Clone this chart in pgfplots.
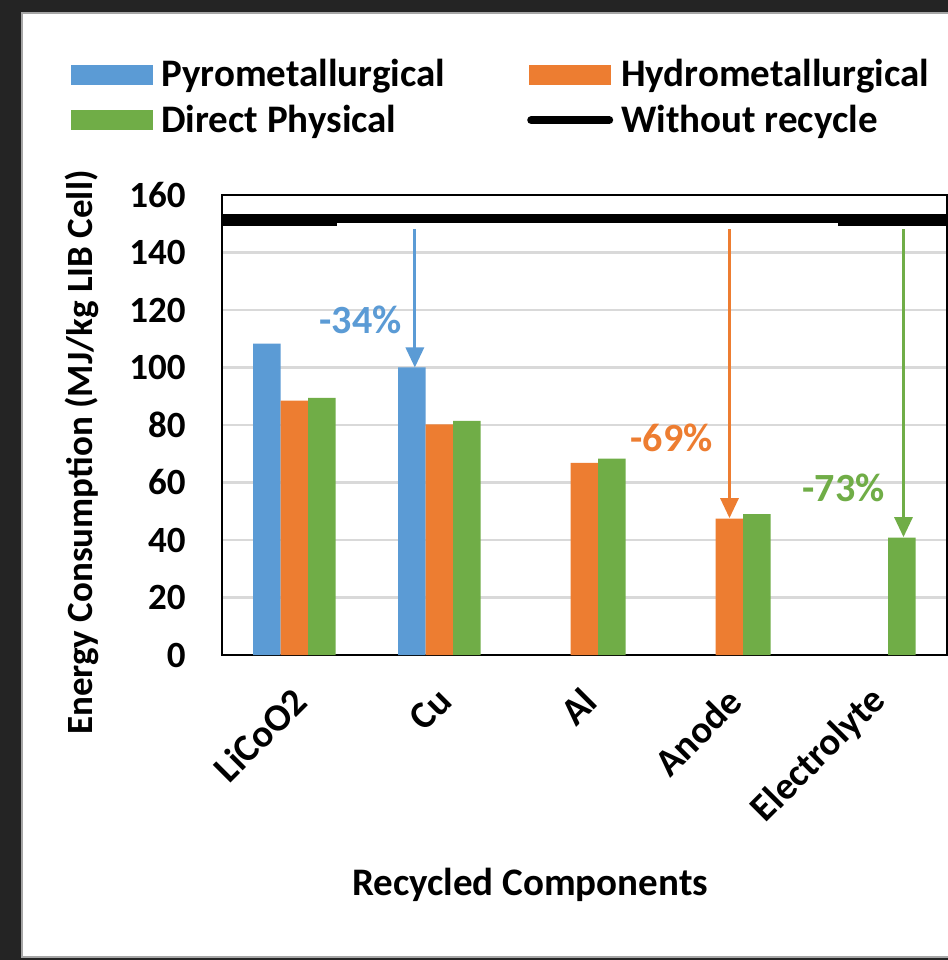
\documentclass[border=0pt]{standalone}
\usepackage{pgfplots}
\pgfplotsset{compat=1.18}
\usepackage{fontspec}
\setmainfont{Carlito}
\usetikzlibrary{arrows.meta}
\definecolor{cblue}{HTML}{5B9BD5}
\definecolor{corange}{HTML}{ED7D31}
\definecolor{cgreen}{HTML}{70AD47}
\definecolor{cgrid}{HTML}{D9D9D9}
\definecolor{bgdark}{HTML}{242424}
\begin{document}
\begin{tikzpicture}
\useasboundingbox (0pt,0pt) rectangle (474pt,480pt);
\clip (0pt,0pt) rectangle (474pt,480pt);
\fill[bgdark] (0pt,0pt) rectangle (474pt,480pt);
\filldraw[fill=white, draw=gray!70, line width=1pt] (11pt,1.5pt) rectangle (490pt,473.5pt);
\begin{axis}[
  at={(111pt,152.5pt)}, anchor=south west,
  scale only axis, width=362.5pt, height=230pt,
  xmin=-0.5, xmax=4.5, ymin=0, ymax=160,
  ytick={0,20,...,160},
  xtick={0,1,2,3,4},
  xticklabels={LiCoO2,Cu,Al,Anode,Electrolyte},
  major tick length=0pt,
  ymajorgrids, grid style={cgrid, line width=1.2pt},
  axis line style={black, line width=1.2pt},
  /pgf/number format/assume math mode=true,
  yticklabel style={font=\bfseries\fontsize{18.5}{20}\selectfont, inner sep=0pt, anchor=east, xshift=-18pt},
  xticklabel style={font=\bfseries\fontsize{19.3}{21}\selectfont, inner sep=0pt, rotate=45, anchor=east, xshift=-12pt, yshift=-16pt},
  every axis y label/.style={at={(axis description cs:-0.193,0.44)}, rotate=90, anchor=center, font=\bfseries\fontsize{18.5}{20}\selectfont},
  every axis x label/.style={at={(axis description cs:0.425,-0.5)}, anchor=center, font=\bfseries\fontsize{19.5}{21}\selectfont},
  ylabel={Energy Consumption (MJ/kg LIB Cell)},
  xlabel={Recycled Components},
  legend columns=2,
  legend cell align=left,
  legend style={at={(axis description cs:-0.2083,1.304)}, anchor=north west, draw=none, fill=none, inner sep=0pt,
    font=\bfseries\fontsize{19.5}{21}\selectfont,
    nodes={inner xsep=4pt, inner ysep=2pt},
    row sep=3.5pt,
    /tikz/every even column/.append style={column sep=37pt}},
]
\addplot[ybar, bar width=13.75pt, bar shift=-13.75pt, fill=cblue, draw=none,
  legend image code/.code={\fill[cblue] (0pt,-5pt) rectangle (41pt,5pt);}]
  coordinates {(0,108.3) (1,100)};
\addlegendentry{Pyrometallurgical}
\addplot[ybar, bar width=13.75pt, bar shift=0pt, fill=corange, draw=none,
  legend image code/.code={\fill[corange] (0pt,-5pt) rectangle (41pt,5pt);}]
  coordinates {(0,88.5) (1,80.2) (2,66.8) (3,47.4)};
\addlegendentry{Hydrometallurgical}
\addplot[ybar, bar width=13.75pt, bar shift=13.75pt, fill=cgreen, draw=none,
  legend image code/.code={\fill[cgreen] (0pt,-5pt) rectangle (41pt,5pt);}]
  coordinates {(0,89.4) (1,81.4) (2,68.3) (3,49.0) (4,40.8)};
\addlegendentry{Direct Physical}
\addplot[black, line width=4.5pt,
  legend image code/.code={\draw[black, line width=4pt, line cap=round] (1pt,0pt) -- (40pt,0pt);}]
  coordinates {(-0.5,151.8) (4.5,151.8)};
\addlegendentry{Without recycle}
\addplot[black, line width=4.5pt, forget plot] coordinates {(-0.5,150.7) (0.29,150.7)};
\addplot[black, line width=4.5pt, forget plot] coordinates {(3.75,150.7) (4.5,150.7)};
\draw[cblue, line width=1.5pt, -{Triangle[width=9pt,length=10pt]}] (axis cs:0.83,148) -- (axis cs:0.83,100);
\draw[corange, line width=1.5pt, -{Triangle[width=9pt,length=10pt]}] (axis cs:3.0,148) -- (axis cs:3.0,47.6);
\draw[cgreen, line width=1.5pt, -{Triangle[width=9pt,length=10pt]}] (axis cs:4.2,148) -- (axis cs:4.2,41);
\node[cblue, font=\bfseries\fontsize{20}{22}\selectfont] at (axis cs:0.455,116.5) {-34\%};
\node[corange, font=\bfseries\fontsize{20}{22}\selectfont] at (axis cs:2.6,75.5) {-69\%};
\node[cgreen, font=\bfseries\fontsize{20}{22}\selectfont] at (axis cs:3.786,58) {-73\%};
\end{axis}
\end{tikzpicture}
\end{document}
